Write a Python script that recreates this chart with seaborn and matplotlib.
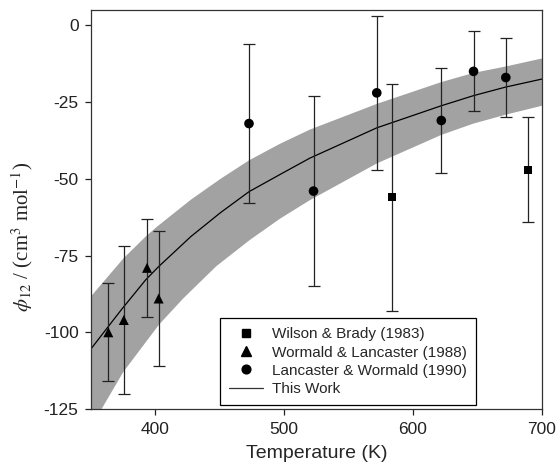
import matplotlib
matplotlib.use("Agg")
import matplotlib.pyplot as plt
import numpy as np
import seaborn as sns
from matplotlib.lines import Line2D

# Wilson & Brady (1983)
wb_T = [584, 689]
wb_phi = [-56, -47]
wb_lo = [-93, -64]
wb_hi = [-19, -30]

# Wormald & Lancaster (1988)
wl_T = [364, 376, 394, 403]
wl_phi = [-100, -96, -79, -89]
wl_lo = [-116, -120, -95, -111]
wl_hi = [-84, -72, -63, -67]

# Lancaster & Wormald (1990)
lw_T = [473, 523, 572, 622, 647, 672]
lw_phi = [-32, -54, -22, -31, -15, -17]
lw_lo = [-58, -85, -47, -48, -28, -30]
lw_hi = [-6, -23, 3, -14, -2, -4]

# this work: fitted curve and its uncertainty band
fit_T = [350.6, 362, 374, 393, 403, 428, 451, 473, 497, 520, 572, 622, 647, 672, 700]
fit_phi = [-105.4, -99.2, -92.7, -82.9, -78.6, -68.8, -61.0, -54.2, -48.6, -43.3,
           -33.4, -26.2, -22.9, -20.1, -17.5]

up_T = [350.6, 376, 393, 402, 428, 451, 473, 497, 520, 572, 622, 647, 672, 700]
up_phi = [-88.3, -75.8, -68.8, -65.5, -56.8, -50.0, -44.0, -38.6, -34.0, -25.6,
          -18.5, -15.5, -13.4, -10.8]

lo_T = [350.6, 358.8, 375.5, 403.3, 422, 447.6, 473.4, 497, 520, 572, 622, 647, 672, 700]
lo_phi = [-131.6, -125, -113, -97.5, -89, -78.5, -70, -63, -57, -45, -35.7, -32, -29.1, -26.2]

sns.set_style("ticks")
plt.rcParams['font.family'] = ['Liberation Sans', 'DejaVu Sans']
plt.rcParams['mathtext.fontset'] = 'stix'
plt.rcParams['axes.unicode_minus'] = False

fig = plt.figure(figsize=(5.57, 4.71), dpi=100)
ax = fig.add_axes([0.1634, 0.1316, 0.8096, 0.8472])

band_x = np.concatenate([up_T, lo_T[::-1]])
band_y = np.concatenate([up_phi, lo_phi[::-1]])
ax.fill(band_x, band_y, color='#a2a2a2', linewidth=0, zorder=1)

sns.lineplot(x=fit_T, y=fit_phi, color='black', linewidth=0.9, ax=ax, zorder=2)

for T, phi, lo, hi in [(wb_T, wb_phi, wb_lo, wb_hi),
                       (wl_T, wl_phi, wl_lo, wl_hi),
                       (lw_T, lw_phi, lw_lo, lw_hi)]:
    phi = np.array(phi)
    yerr = [phi - np.array(lo), np.array(hi) - phi]
    ax.errorbar(T, phi, yerr=yerr, fmt='none', ecolor='#222222',
                elinewidth=0.9, capsize=4.5, capthick=0.9, zorder=3)

sns.scatterplot(x=wb_T, y=wb_phi, marker='s', s=32, color='black',
                edgecolor='none', ax=ax, zorder=4)
sns.scatterplot(x=wl_T, y=wl_phi, marker='^', s=52, color='black',
                edgecolor='none', ax=ax, zorder=4)
sns.scatterplot(x=lw_T, y=lw_phi, marker='o', s=48, color='black',
                edgecolor='none', ax=ax, zorder=4)

handles = [
    Line2D([], [], marker='s', linestyle='none', color='black', markersize=5.5),
    Line2D([], [], marker='^', linestyle='none', color='black', markersize=6.5),
    Line2D([], [], marker='o', linestyle='none', color='black', markersize=6.3),
    Line2D([], [], color='#333333', linewidth=0.9),
]
labels = ["Wilson & Brady (1983)", "Wormald & Lancaster (1988)",
          "Lancaster & Wormald (1990)", "This Work"]
leg = ax.legend(handles, labels, loc='lower left', bbox_to_anchor=(0.286, 0.01),
                fontsize=11, frameon=True, fancybox=False, framealpha=1,
                edgecolor='black', handlelength=2.2, handletextpad=0.6,
                labelspacing=0.27, borderpad=0.6, borderaxespad=0)
leg.get_frame().set_linewidth(0.9)

ax.set_xlim(350.6, 700)
ax.set_ylim(-125, 5)
ax.set_xticks([400, 500, 600, 700])
ax.set_yticks([0, -25, -50, -75, -100, -125])
ax.tick_params(direction='out', length=4, width=0.9, labelsize=12.5, pad=5,
               colors='#222222')
for side in ['top', 'right', 'left', 'bottom']:
    ax.spines[side].set_visible(True)
    ax.spines[side].set_linewidth(0.9)
    ax.spines[side].set_color('#333333')

ax.set_xlabel("Temperature (K)", fontsize=14, labelpad=6)
ax.set_ylabel(r"$\phi_{12}$ / (cm$^3$ mol$^{-1}$)", fontsize=15,
              family='Liberation Serif')
ax.yaxis.set_label_coords(-0.125, 0.43)

fig.savefig("out.png", dpi=100)
